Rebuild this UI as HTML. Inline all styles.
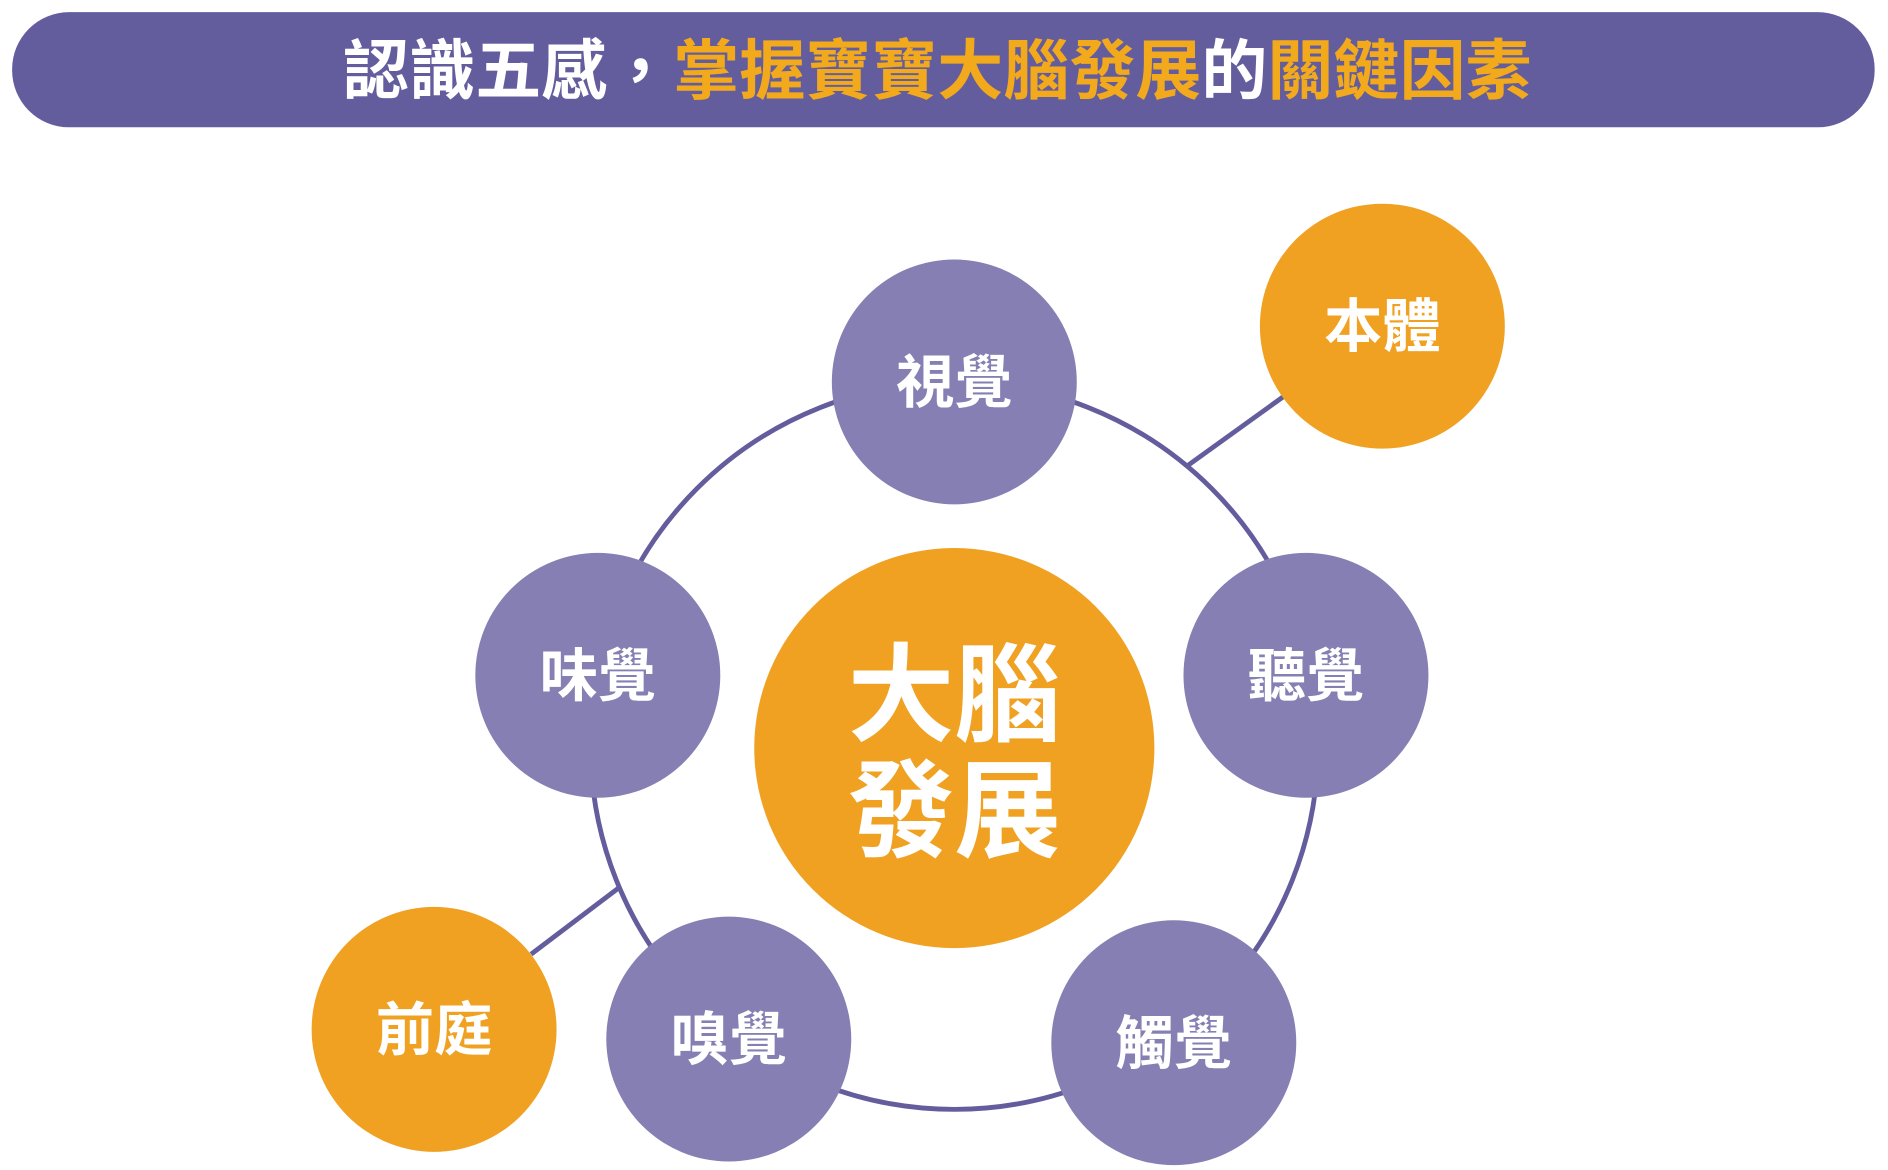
<!DOCTYPE html>
<html><head><meta charset="utf-8"><style>
html,body{margin:0;padding:0;background:#fff;}
svg{display:block;}
text{font-family:"Liberation Sans","Noto Sans CJK TC","Noto Sans CJK SC",sans-serif;font-weight:bold;}
</style></head><body>
<svg width="1888" height="1170" viewBox="0 0 1557 965" preserveAspectRatio="none" xmlns="http://www.w3.org/2000/svg">
<rect x="10" y="10" width="1536" height="95" rx="47" fill="#635d9e"/>
<text x="283" y="77" font-size="54" textLength="980" lengthAdjust="spacingAndGlyphs"><tspan fill="#fff">認識五感，</tspan><tspan fill="#f2aa1c">掌握寶寶大腦發展</tspan><tspan fill="#fff">的</tspan><tspan fill="#f2aa1c">關鍵因素</tspan></text>
<circle cx="787" cy="615" r="300" fill="none" stroke="#635d9e" stroke-width="4"/>
<line x1="978" y1="385" x2="1060" y2="326" stroke="#635d9e" stroke-width="4"/>
<line x1="438" y1="787" x2="512" y2="731" stroke="#635d9e" stroke-width="4"/>
<circle cx="787" cy="617" r="165" fill="#f0a122"/>
<g fill="#857fb3">
<circle cx="787" cy="315" r="101"/>
<circle cx="1077" cy="557" r="101"/>
<circle cx="968" cy="860" r="101"/>
<circle cx="601" cy="857" r="101"/>
<circle cx="493" cy="557" r="101"/>
</g>
<g fill="#f0a122">
<circle cx="1140" cy="269" r="101"/>
<circle cx="358" cy="849" r="101"/>
</g>
<g fill="#fff" font-size="48" text-anchor="middle">
<text x="787" y="332">視覺</text>
<text x="1077" y="574">聽覺</text>
<text x="968" y="877">觸覺</text>
<text x="601" y="874">嗅覺</text>
<text x="493" y="574">味覺</text>
<text x="1140" y="286">本體</text>
<text x="358" y="866">前庭</text>
<text x="787" y="604" font-size="88">大腦</text>
<text x="787" y="700" font-size="88">發展</text>
</g>
</svg>
</body></html>
